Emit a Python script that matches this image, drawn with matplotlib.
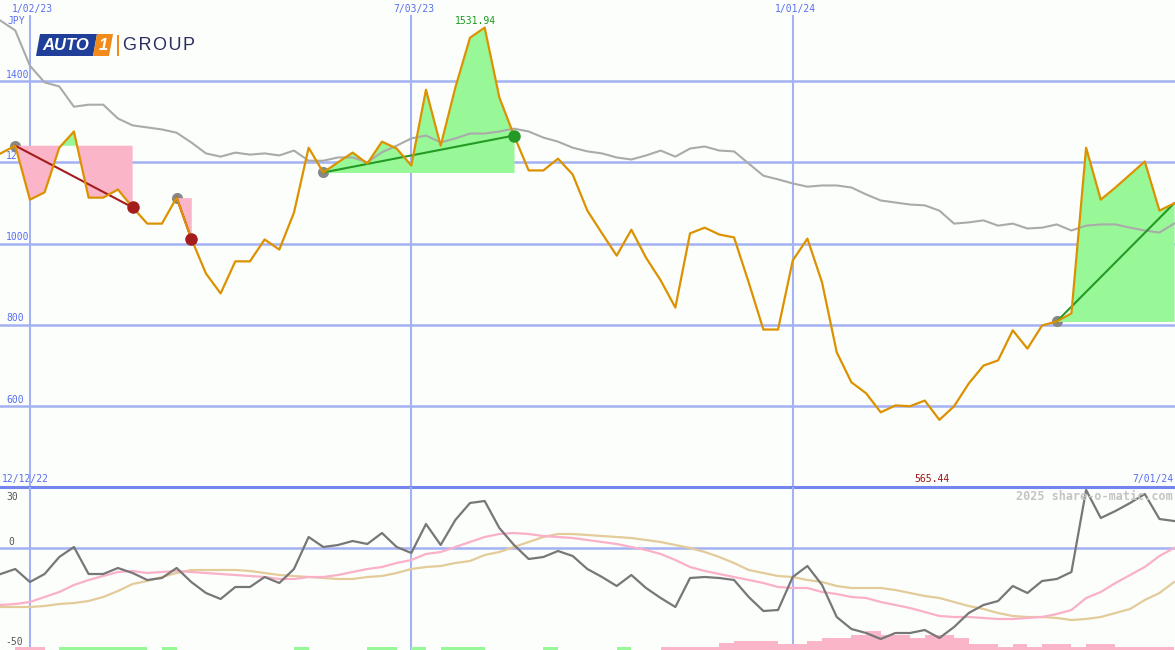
import numpy as np
import matplotlib.pyplot as plt
from matplotlib.patches import Polygon, Rectangle

# weekly closes, 12/19/22 .. 7/01/24 (week 2 = 1/02/23)
price = [1222, 1241, 1108, 1126, 1236, 1276, 1113, 1113, 1133, 1089,
         1049, 1049, 1113, 1012, 926, 877, 956, 956, 1010, 985,
         1076, 1236, 1175, 1200, 1224, 1197, 1251, 1234, 1192, 1379,
         1241, 1384, 1507, 1531.94, 1360, 1266, 1180, 1180, 1209, 1170,
         1081, 1025, 970, 1034, 965, 909, 842, 1025, 1039, 1022,
         1015, 904, 788, 788, 958, 1012, 904, 732, 658, 631,
         584, 601, 599, 613, 565.44, 599, 655, 699, 712, 786,
         741, 798, 808, 828, 1236, 1108, 1138, 1170, 1202, 1081,
         1099]
price_ma = [1549, 1525, 1438, 1397, 1387, 1337, 1342, 1342, 1308, 1291,
            1286, 1281, 1273, 1249, 1222, 1214, 1224, 1219, 1222, 1217,
            1229, 1204, 1204, 1212, 1212, 1200, 1225, 1241, 1259, 1266,
            1249, 1259, 1271, 1271, 1276, 1283, 1276, 1261, 1251, 1236,
            1227, 1222, 1212, 1207, 1217, 1229, 1214, 1234, 1239, 1229,
            1227, 1197, 1167, 1158, 1148, 1140, 1143, 1143, 1138, 1121,
            1106, 1101, 1096, 1094, 1081, 1049, 1052, 1057, 1044, 1049,
            1037, 1039, 1047, 1032, 1044, 1047, 1047, 1039, 1032, 1027,
            1049]
osc = [-13, -10.5, -17, -13, -4.5, 0.5, -13, -13, -10, -12.5,
       -16, -15, -10, -17, -22.5, -25.5, -19.5, -19.5, -14.5, -17.5,
       -10.5, 5.5, 0.5, 1.5, 3.5, 2, 7.5, 0.5, -2.5, 12,
       1.5, 14, 22.5, 23.5, 10, 1.5, -5.5, -4.5, -1.5, -4,
       -10.5, -14.5, -19, -13.5, -20, -25, -29.5, -15, -14.5, -15,
       -16, -24.5, -31.5, -31, -14.5, -9, -18.5, -34.5, -40.5, -42.5,
       -45.5, -42.5, -42.5, -41, -45, -39.5, -32.5, -28.5, -26.5, -19,
       -22.5, -16.5, -15.5, -12, 29, 15, 18.5, 22.5, 27, 14.5,
       13.5]
osc_fast = [-28.5, -28, -27, -24.5, -22, -18.5, -16, -14, -12, -11.5,
            -12.5, -12, -11.5, -12, -12.5, -13, -13.5, -14, -14.5, -15.5,
            -15.5, -14.5, -14.5, -13.5, -12, -10.5, -9.5, -7.5, -6, -3,
            -2, 0.5, 3, 5.5, 7, 7.5, 7, 6, 5.5, 5,
            4, 3, 2, 0.5, -1, -3, -6, -9.5, -11.5, -13,
            -14.5, -16, -17.5, -19.5, -20, -20, -22, -23, -24.5, -25,
            -27, -28.5, -30, -32, -34, -34.5, -34.5, -35, -35.5, -35.5,
            -35, -34.5, -33, -31, -25, -22, -17.5, -13.5, -9.5, -4,
            0]
osc_slow = [-29.5, -29.5, -29.5, -29, -28, -27.5, -26.5, -24.5, -21.5, -18,
            -16.5, -14.5, -12.5, -11, -11, -11, -11, -11.5, -12.5, -13.5,
            -14, -14.5, -15, -15.5, -15.5, -14.5, -14, -12.5, -10.5, -9.5,
            -9, -7.5, -6.5, -3.5, -2, 0.5, 3, 5.5, 7, 7,
            6.5, 6, 5.5, 5, 4, 3, 1.5, 0, -2, -4.5,
            -7.5, -11, -12.5, -14, -14.5, -16, -17, -19, -20, -20,
            -20, -21, -22.5, -24, -25, -27, -29, -30.5, -32.5, -34,
            -34.5, -34.5, -35, -36, -35.5, -34.5, -32.5, -30.5, -26, -22.5,
            -17]
osc_bars = [0, -1.5, -1.5, 0, 1.5, 1.5, 1.5, 1.5, 1.5, 1.5,
            0, 1.5, 0, 0, 0, 0, 0, 0, 0, 0,
            1.5, 0, 0, 0, 0, 1.5, 1.5, 0, 1.5, 0,
            1.5, 1.5, 1.5, 0, 0, 0, 0, 1.5, 0, 0,
            0, 0, 1.5, 0, 0, -1.5, -1.5, -1.5, -1.5, -3.5,
            -4.5, -4.5, -4.5, -3, -3, -4.5, -6, -6, -7.5, -9.5,
            -7.5, -7.5, -6, -7.5, -7.5, -6, -3, -3, -1.5, -3,
            -1.5, -3, -3, -1.5, -3, -3, -1.5, -1.5, -1.5, -1.5,
            0]

date_weeks = [2, 28, 54]
date_labels = ["1/02/23", "7/03/23", "1/01/24"]
price_levels = [600, 800, 1000, 1200, 1400]
trades = [(1, 9), (12, 13), (22, 35), (72, 80)]  # (entry week, exit week)

weeks = np.arange(len(price))
price = np.array(price)

GRID = "#a3b2f2"
SEP = "#7485ee"
TXT = "#5a6ef0"
PINK = "#fbb5c9"
LGREEN = "#98f898"
DRED = "#a51c1c"
DGREEN = "#249a24"
BG = "#fcfefc"

plt.rcParams["font.family"] = "DejaVu Sans Mono"
plt.rcParams["font.size"] = 7

fig = plt.figure(figsize=(11.75, 6.5), dpi=100, facecolor=BG)
ax = fig.add_axes([0, 163 / 650, 1, 487 / 650])
ax2 = fig.add_axes([0, 0, 1, 163 / 650])
for a in (ax, ax2):
    a.set_facecolor(BG)
    a.set_axis_off()
    a.set_xlim(-0.04, 80.06)
ax.set_ylim(400, 1600)
ax2.set_ylim(-51, 30.5)

########################################################
# main panel
for lv in price_levels:
    ax.axhline(lv, color=GRID, lw=1.8, zorder=0.5)
    ax.text(0.37, lv + 3, str(lv), ha="left", va="bottom", color=TXT, zorder=1)
ax.vlines(date_weeks, 400, 1563, color=GRID, lw=1.5, zorder=0.5)
for w, lab in zip(date_weeks, date_labels):
    ax.text(w + 0.2, 1578, lab, ha="center", va="center", color=TXT)
ax.text(0.5, 1549, "JPY", ha="left", va="center", color=TXT)
ax.axhline(400, color=SEP, lw=2.2, clip_on=False, zorder=6)

for k, (a, b) in enumerate(trades):
    xs = weeks[a:b + 1]
    ys = price[a:b + 1]
    lvl = price[a]
    ax.fill_between(xs, ys, lvl, where=ys <= lvl, interpolate=True,
                    color=PINK, lw=0, zorder=2)
    ax.fill_between(xs, ys, lvl, where=ys >= lvl, interpolate=True,
                    color=LGREEN, lw=0, zorder=2)
    lc = DGREEN if price[b] > lvl else DRED
    ax.plot([a, b], [lvl, price[b]], color=lc, lw=1.5, zorder=3.5)
    ax.plot(a, lvl, "o", color="#888888", ms=8, mew=0, zorder=1.5)
    if k < len(trades) - 1:
        ax.plot(b, price[b], "o", color=lc, ms=9, mew=0, zorder=5)

ax.plot(weeks, price_ma, color="#aaaaaa", lw=1.5, zorder=3)
ax.plot(weeks, price, color="#dc9200", lw=1.6, zorder=4)

ax.text(32.4, 1548, f"{price.max():.2f}", ha="center", va="center", color="#1a9a1a")
ax.text(63.5, 419.6, f"{price.min():.2f}", ha="center", va="center", color="#9a1515")
ax.text(0.1, 419.6, "12/12/22", ha="left", va="center", color=TXT)
ax.text(79.95, 419.6, "7/01/24", ha="right", va="center", color=TXT)

########################################################
# oscillator panel
ax2.axhline(0, color=GRID, lw=1.8, zorder=0.5)
ax2.vlines(date_weeks, -51, 30.5, color=GRID, lw=1.5, zorder=0.5)
bars = np.array(osc_bars)
ax2.bar(weeks, np.abs(bars), width=1, align="edge", bottom=-51,
        color=[LGREEN if v > 0 else PINK for v in bars], lw=0, zorder=1)
ax2.plot(weeks, osc_slow, color="#e3cb9a", lw=1.6, zorder=2)
ax2.plot(weeks, osc_fast, color="#f9b0c8", lw=1.6, zorder=2.5)
ax2.plot(weeks, osc, color="#777777", lw=1.6, zorder=3)
ax2.text(0.37, 25.5, "30", ha="left", va="center", color="#555555")
ax2.text(0.5, 3, "0", ha="left", va="center", color="#555555")
ax2.text(0.3, -47, "-50", ha="left", va="center", color="#555555")
ax2.text(79.9, 25.5, "2025 share-o-matic.com", ha="right", va="center",
         fontsize=8.5, fontweight="bold", color="#c4c4c4")

########################################################
# logo
def fp(x, y):
    return (x / 1175, 1 - y / 650)

fig.patches.append(Polygon([fp(40, 34), fp(97, 34), fp(93, 56), fp(36, 56)],
                           closed=True, transform=fig.transFigure, color="#1f3f98", lw=0))
fig.patches.append(Polygon([fp(97, 34), fp(113, 34), fp(109, 56), fp(93, 56)],
                           closed=True, transform=fig.transFigure, color="#f28a1a", lw=0))
fig.patches.append(Rectangle(fp(117, 56), 2 / 1175, 21 / 650,
                             transform=fig.transFigure, color="#f28a1a", lw=0))
fig.text(*fp(66, 45.5), "AUTO", ha="center", va="center", color="white",
         fontsize=12, fontweight="bold", fontstyle="italic", family="Liberation Sans")
fig.text(*fp(103, 45.5), "1", ha="center", va="center", color="white",
         fontsize=12, fontweight="bold", fontstyle="italic", family="Liberation Sans")
fig.text(*fp(123, 45.5), "G R O U P".replace(" ", "\u200a"), ha="left", va="center",
         color="#2b2e5e", fontsize=13, family="Liberation Sans")

fig.savefig("out.png", dpi=100, facecolor=BG)
